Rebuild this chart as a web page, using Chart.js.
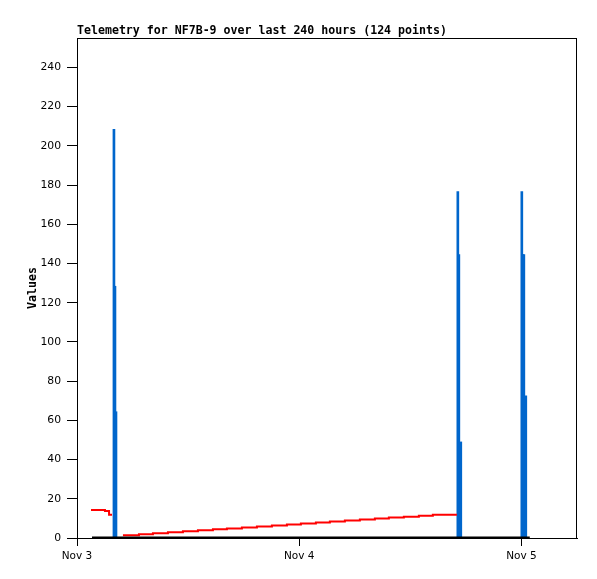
<!DOCTYPE html>
<html>
<head>
<meta charset="utf-8">
<script src="https://cdn.jsdelivr.net/npm/chart.js@4.4.1/dist/chart.umd.min.js"></script>
<style>
    body { margin: 0; background: #fff; }
    canvas { display: block; }
</style>
</head>
<body>
<canvas id="telemetryChart" width="597" height="579"></canvas>
<script>
// hours since Nov 3 00:00
const spikeHours = [3.99, 4.10, 4.21, 41.13, 41.24, 41.45, 48.04, 48.15, 48.26, 48.47];
const spikeValues = [208.4, 128.4, 64.4, 176.7, 144.5, 49, 176.7, 144.5, 144.5, 72.5];

const redHours = [1.62, 3.02, 3.46, 3.78, 4.1,
    5.07, 6.69, 8.2, 9.82, 11.44, 13.06, 14.68, 16.19, 17.81, 19.43, 21.05, 22.67,
    24.18, 25.8, 27.31, 28.93, 30.55, 32.17, 33.68, 35.3, 36.92, 38.43, 40.05, 41.03];
const redValues = [14.8, 14.3, 13.8, 11.8, null,
    0.9, 1.4, 1.9, 2.4, 2.9, 3.4, 3.9, 4.4, 4.9, 5.4, 5.9, 6.4,
    6.9, 7.4, 7.9, 8.4, 8.9, 9.4, 9.9, 10.4, 10.9, 11.4, 11.9, 11.9];

const blackHours = [1.62, 48.9];
const blackValues = [0, 0];

const xTickHours = [0, 24, 48];
const xTickLabels = ['Nov 3', 'Nov 4', 'Nov 5'];
const yTickStep = 20;

function toPoints(xs, ys) {
    return xs.map((x, i) => ({ x: x, y: ys[i] }))
}

// box around the plot area
const frame = {
    id: 'frame',
    afterDraw(chart) {
        const a = chart.chartArea;
        const ctx = chart.ctx;
        ctx.save();
        ctx.strokeStyle = '#000';
        ctx.lineWidth = 1;
        ctx.strokeRect(a.left + 0.5, a.top + 0.5, a.right - a.left - 1, a.bottom - a.top);
        ctx.restore();
    }
};

window.onload = function () {
    let ctx = document.getElementById('telemetryChart').getContext('2d');
    new Chart(ctx, {
        type: 'line',
        data: {
            datasets: [{
                type: 'line',
                data: toPoints(blackHours, blackValues),
                borderColor: '#000',
                borderWidth: 3,
                pointRadius: 0,
                order: 0
            }, {
                type: 'line',
                data: toPoints(redHours, redValues),
                borderColor: '#ff0000',
                borderWidth: 2,
                pointRadius: 0,
                stepped: 'after',
                spanGaps: false,
                order: 1
            }, {
                type: 'bar',
                data: toPoints(spikeHours, spikeValues),
                backgroundColor: '#0066cc',
                borderWidth: 0,
                barThickness: 2,
                order: 2
            }]
        },
        options: {
            responsive: false,
            animation: false,
            layout: { padding: { left: 0, right: 20, top: 0, bottom: 0 } },
            plugins: {
                legend: { display: false },
                tooltip: { enabled: false },
                title: {
                    display: true,
                    text: 'Telemetry for NF7B-9 over last 240 hours (124 points)',
                    align: 'start',
                    fullSize: false,
                    color: '#000',
                    font: { family: 'DejaVu Sans Mono', size: 11.6, weight: 'bold', lineHeight: 1.0 },
                    padding: { top: 25, bottom: 1.4 }
                }
            },
            scales: {
                x: {
                    type: 'linear',
                    min: 0,
                    max: 54,
                    offset: false,
                    afterFit: function (scale) { scale.height = 41 },
                    afterBuildTicks: function (scale) {
                        scale.ticks = xTickHours.map(v => ({ value: v }))
                    },
                    ticks: {
                        color: '#000',
                        padding: 4,
                        maxRotation: 0,
                        autoSkip: false,
                        font: { family: 'DejaVu Sans', size: 10.5 },
                        callback: function (v) {
                            let i = xTickHours.indexOf(v);
                            return i >= 0 ? xTickLabels[i] : '';
                        }
                    },
                    grid: { drawOnChartArea: false, offset: false, tickLength: 8, color: '#000' },
                    border: { display: true, color: '#000' }
                },
                y: {
                    min: 0,
                    max: 255,
                    afterFit: function (scale) { scale.width = 77 },
                    afterBuildTicks: function (scale) {
                        scale.ticks = scale.ticks.filter(t => t.value % yTickStep === 0)
                    },
                    ticks: {
                        stepSize: yTickStep,
                        color: '#000',
                        padding: 6,
                        font: { family: 'DejaVu Sans', size: 10.8 }
                    },
                    grid: { drawOnChartArea: false, tickLength: 10, color: '#000' },
                    border: { display: true, color: '#000' },
                    title: {
                        display: true,
                        text: 'Values',
                        color: '#000',
                        font: { family: 'DejaVu Sans Mono', size: 11.6, weight: 'bold', lineHeight: 1.2 },
                        padding: { top: 26, bottom: 0 }
                    }
                }
            }
        },
        plugins: [frame]
    });
}
</script>
</body>
</html>
